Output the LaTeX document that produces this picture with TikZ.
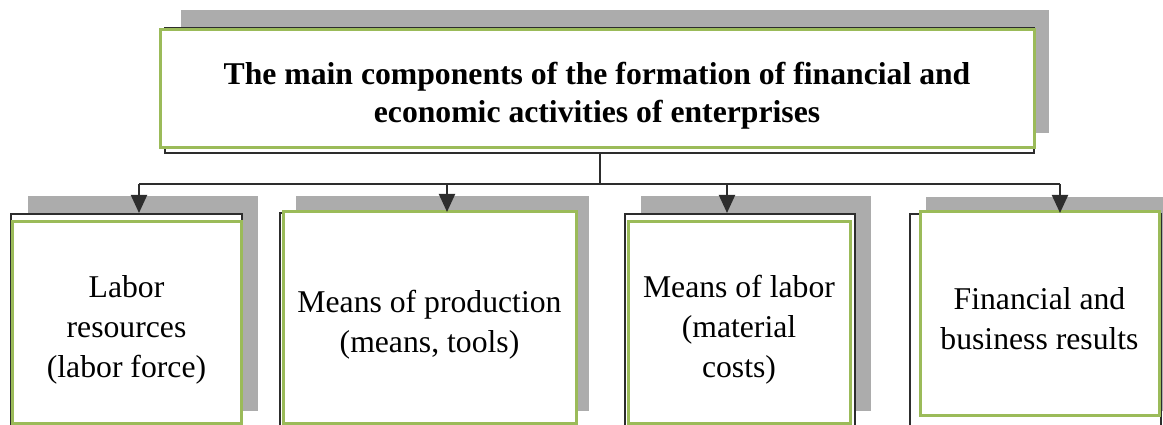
\documentclass[tikz,border=0pt]{standalone}
\usepackage{fontspec}
\setmainfont{Liberation Serif}
\usetikzlibrary{arrows.meta}
\definecolor{cardgreen}{RGB}{155,187,89}
\definecolor{shadowgray}{RGB}{172,172,172}
\definecolor{darkline}{RGB}{45,45,45}
\tikzset{
  shadowfill/.style = {fill = shadowgray},
  backcard/.style = {draw = darkline, line width = 2, fill = white, rectangle, inner sep = 0},
  greencard/.style = {draw = cardgreen, line width = 3, fill = white, rectangle, inner sep = 0},
  cardtext/.style = {align = center, inner sep = 0, font = \fontsize{31.7}{40}\selectfont},
  titletext/.style = {cardtext, font = \fontsize{31.7}{38}\selectfont\bfseries},
  link/.style = {draw = darkline, line width = 2},
  linkarrow/.style = {link, -{Triangle[width = 16, length = 18]}}
}

\begin{document}
\begin{tikzpicture} [x = 1pt, y = -1pt]
\useasboundingbox (0, 0) rectangle (1163, 425);
\clip (0, 0) rectangle (1163, 425);
\fill[shadowfill] (181, 10) rectangle (1049, 133);
\node[backcard, minimum width = 869, minimum height = 125] (mainback) at (599.5, 90.5){};
\node[greencard, minimum width = 874, minimum height = 118] (main) at (597, 89){};
\node[titletext, yshift = -7] (maintext) at (main.center){The main components of the formation of financial and\\economic activities of enterprises};
\fill[shadowfill] (28, 196) rectangle (258, 411);
\fill[shadowfill] (296, 196) rectangle (589, 411);
\fill[shadowfill] (641, 196) rectangle (871, 411);
\fill[shadowfill] (926, 197) rectangle (1180, 411);
\node[backcard, minimum width = 231, minimum height = 226] (back1) at (126.5, 327){};
\node[backcard, minimum width = 297, minimum height = 227] (back2) at (428.5, 326.5){};
\node[backcard, minimum width = 230, minimum height = 226] (back3) at (740, 327){};
\node[backcard, minimum width = 251, minimum height = 226] (back4) at (1035.5, 327){};
\node[greencard, minimum width = 229, minimum height = 201] (labor) at (126.5, 322.5){};
\node[greencard, minimum width = 293, minimum height = 211] (production) at (429.5, 317.5){};
\node[greencard, minimum width = 222, minimum height = 201] (laborcost) at (739, 322.5){};
\node[greencard, minimum width = 239, minimum height = 203] (results) at (1039.5, 313.5){};
\node[cardtext, yshift = -7] (labortext) at (labor.center){Labor\\resources\\(labor force)};
\node[cardtext, yshift = -7] (productiontext) at (production.center){Means of production\\(means, tools)};
\node[cardtext, yshift = -7] (laborcosttext) at (laborcost.center){Means of labor\\(material\\costs)};
\node[cardtext, yshift = -5] (resultstext) at (results.center){Financial and\\business results};
\coordinate (a1) at (139, 184);
\coordinate (a2) at (447, 184);
\coordinate (a3) at (727, 184);
\coordinate (a4) at (1060, 184);
\draw[link] (mainback.south) -- (mainback.south |- a1);
\draw[link] (a1) -- (a4);
\draw[linkarrow] (a1) -- (a1 |- back1.north);
\draw[linkarrow] (a2) -- (a2 |- back2.north);
\draw[linkarrow] (a3) -- (a3 |- back3.north);
\draw[linkarrow] (a4) -- (a4 |- back4.north);
\end{tikzpicture}
\end{document}
